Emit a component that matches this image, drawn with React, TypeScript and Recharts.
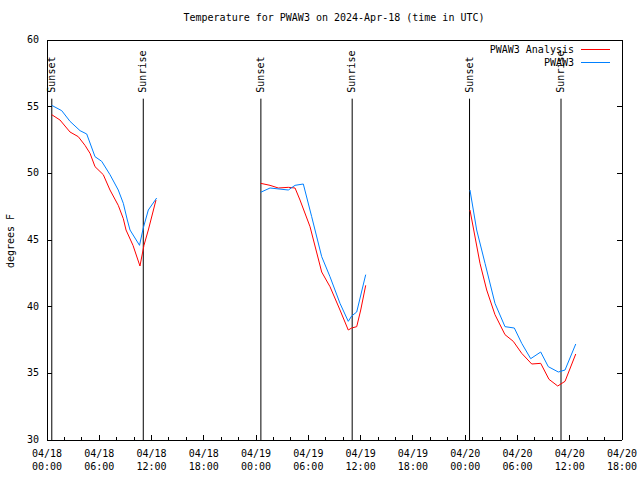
import React from 'react';
import { LineChart, Line, XAxis, YAxis, ReferenceLine } from 'recharts';

// hours since 04/18 00:00 UTC, °F; null breaks the line between nights
const ANALYSIS_HOURS = [
  0.54, 1.49, 2.64, 3.59, 4.36, 4.94, 5.51, 6.46, 7.23, 8.18, 8.76, 9.07, 9.87, 10.67, 11.13, 11.63, 12.51,
  18,
  24.53, 25.6, 26.55, 27.7, 28.47, 29.04, 30.19, 31.53, 32.48, 33.63, 34.58, 34.97, 35.55, 36.01, 36.58,
  42,
  48.55, 49.7, 50.47, 51.42, 52.57, 53.52, 54.49, 55.64, 56.67, 57.62, 58.62, 59.46, 60.69,
];
const ANALYSIS_TEMPS = [
  54.4, 54.0, 53.1, 52.75, 52.1, 51.5, 50.5, 49.9, 48.75, 47.6, 46.6, 45.75, 44.6, 43.05, 44.6, 45.75, 48.0,
  null,
  49.25, 49.1, 48.9, 48.95, 48.9, 48.0, 46.0, 42.6, 41.5, 39.75, 38.25, 38.4, 38.5, 39.75, 41.6,
  null,
  47.25, 43.25, 41.25, 39.4, 37.9, 37.4, 36.5, 35.7, 35.75, 34.55, 34.05, 34.4, 36.45,
];

const OBS_HOURS = [
  0.54, 1.69, 2.64, 3.79, 4.56, 5.51, 6.28, 7.23, 8.18, 8.76, 9.22, 9.53, 10.62, 11.05, 11.63, 12.59,
  18,
  24.53, 25.6, 27.7, 28.47, 29.42, 30.38, 31.53, 32.48, 33.63, 34.58, 34.97, 35.55, 36.58,
  42,
  48.55, 49.32, 50.28, 51.42, 52.57, 53.64, 54.49, 55.52, 56.67, 57.54, 58.69, 59.46, 60.69,
];
const OBS_TEMPS = [
  55.1, 54.7, 53.9, 53.2, 52.95, 51.25, 50.9, 49.9, 48.75, 47.75, 46.5, 45.75, 44.6, 45.9, 47.25, 48.15,
  null,
  48.58, 48.9, 48.75, 49.1, 49.2, 46.75, 43.75, 42.25, 40.25, 38.9, 39.3, 39.6, 42.4,
  null,
  48.75, 45.75, 43.25, 40.25, 38.5, 38.4, 37.25, 36.1, 36.6, 35.5, 35.1, 35.25, 37.2,
];

const SUN_HOURS = [0.55, 11.05, 24.55, 35.03, 48.5, 59.0];
const SUN_NAMES = ['Sunset', 'Sunrise', 'Sunset', 'Sunrise', 'Sunset', 'Sunrise'];
const SUN_LINE_TOP = 55.6;

const X_TICKS = Array.from({ length: 34 }, (_, i) => i * 2);
const Y_TICKS = [30, 35, 40, 45, 50, 55, 60];

const FONT = '"DejaVu Sans Mono", monospace';
const RED = '#ff0000';
const BLUE = '#0080ff';

const analysisData = ANALYSIS_HOURS.map((t, i) => ({ t, v: ANALYSIS_TEMPS[i] }));
const obsData = OBS_HOURS.map((t, i) => ({ t, v: OBS_TEMPS[i] }));

const hourLabel = (h: number) => {
  const day = 18 + Math.floor(h / 24);
  const hh = h % 24;
  return [`04/${day}`, `${String(hh).padStart(2, '0')}:00`];
};

const BottomTick = (props: any) => {
  const { x, y, payload } = props;
  const major = payload.value % 6 === 0;
  const [d, t] = hourLabel(payload.value);
  return (
    <g>
      <line x1={x} x2={x} y1={y} y2={y - (major ? 5 : 3)} stroke="#000" shapeRendering="crispEdges" />
      {major && (
        <>
          <text x={x} y={y + 14} textAnchor="middle" dominantBaseline="middle" fontFamily={FONT} fontSize={10} fill="#000">{d}</text>
          <text x={x} y={y + 27} textAnchor="middle" dominantBaseline="middle" fontFamily={FONT} fontSize={10} fill="#000">{t}</text>
        </>
      )}
    </g>
  );
};

const TopTick = (props: any) => {
  const { x, y, payload } = props;
  const major = payload.value % 6 === 0;
  return <line x1={x} x2={x} y1={y} y2={y + (major ? 5 : 3)} stroke="#000" shapeRendering="crispEdges" />;
};

const LeftTick = (props: any) => {
  const { x, y, payload } = props;
  return (
    <g>
      <line x1={x} x2={x + 5} y1={y} y2={y} stroke="#000" shapeRendering="crispEdges" />
      <text x={x - 8} y={y} textAnchor="end" dominantBaseline="middle" fontFamily={FONT} fontSize={10} fill="#000">{payload.value}</text>
    </g>
  );
};

const RightTick = (props: any) => {
  const { x, y } = props;
  return <line x1={x} x2={x - 5} y1={y} y2={y} stroke="#000" shapeRendering="crispEdges" />;
};

const sunLabel = (name: string) => (props: any) => {
  const vb = props.viewBox || {};
  const x = vb.x ?? 0;
  const y = (vb.y ?? 0) - 6;
  return (
    <text x={x} y={y} transform={`rotate(-90 ${x} ${y})`} textAnchor="start" dominantBaseline="middle" fontFamily={FONT} fontSize={10} fill="#000">
      {name}
    </text>
  );
};

export default function App() {
  return (
    <div style={{ position: 'absolute', left: 0, top: 0, width: 640, height: 480, background: '#fff' }}>
      <LineChart width={640} height={480} margin={{ top: 39, right: 17, bottom: 0, left: 0 }}>
        <XAxis xAxisId="main" type="number" dataKey="t" domain={[0, 66]} ticks={X_TICKS} interval={0}
          height={40} tickSize={0} tickMargin={0} tickLine={false} tick={<BottomTick />}
          axisLine={{ stroke: '#000', shapeRendering: 'crispEdges' }} allowDataOverflow />
        <XAxis xAxisId="top" orientation="top" type="number" domain={[0, 66]} ticks={X_TICKS} interval={0}
          height={1} tickSize={0} tickMargin={0} tickLine={false} tick={<TopTick />}
          axisLine={{ stroke: '#000', shapeRendering: 'crispEdges' }} allowDataOverflow />
        <YAxis yAxisId="left" type="number" domain={[30, 60]} ticks={Y_TICKS} interval={0}
          width={47} tickSize={0} tickMargin={0} tickLine={false} tick={<LeftTick />}
          axisLine={{ stroke: '#000', shapeRendering: 'crispEdges' }} allowDataOverflow />
        <YAxis yAxisId="right" orientation="right" type="number" domain={[30, 60]} ticks={Y_TICKS} interval={0}
          width={1} tickSize={0} tickMargin={0} tickLine={false} tick={<RightTick />}
          axisLine={{ stroke: '#000', shapeRendering: 'crispEdges' }} allowDataOverflow />
        {SUN_HOURS.map((h, i) => (
          <ReferenceLine key={i} xAxisId="main" yAxisId="left"
            segment={[{ x: h, y: 30 }, { x: h, y: SUN_LINE_TOP }]}
            stroke="#000" strokeWidth={1} label={sunLabel(SUN_NAMES[i])} />
        ))}
        <Line xAxisId="main" yAxisId="left" data={analysisData} dataKey="v" type="linear" stroke={RED}
          strokeWidth={1} dot={false} activeDot={false} isAnimationActive={false} name="PWAW3 Analysis" />
        <Line xAxisId="main" yAxisId="left" data={obsData} dataKey="v" type="linear" stroke={BLUE}
          strokeWidth={1} dot={false} activeDot={false} isAnimationActive={false} name="PWAW3" />
      </LineChart>
      <div style={{ position: 'absolute', left: 0, width: 668, top: 12, textAlign: 'center', fontFamily: FONT, fontSize: 10 }}>
        Temperature for PWAW3 on 2024-Apr-18 (time in UTC)
      </div>
      <div style={{ position: 'absolute', left: 10, top: 241, transform: 'translate(-50%, -50%) rotate(-90deg)', whiteSpace: 'nowrap', fontFamily: FONT, fontSize: 10 }}>
        degrees F
      </div>
      {[{ name: 'PWAW3 Analysis', color: RED, y: 49 }, { name: 'PWAW3', color: BLUE, y: 62 }].map((e) => (
        <div key={e.name} style={{ position: 'absolute', left: 400, width: 210, top: e.y - 7, height: 14, display: 'flex', alignItems: 'center', justifyContent: 'flex-end', fontFamily: FONT, fontSize: 10 }}>
          <span style={{ marginRight: 7 }}>{e.name}</span>
          <span style={{ display: 'inline-block', width: 29, height: 0, borderTop: `1px solid ${e.color}` }} />
        </div>
      ))}
    </div>
  );
}
